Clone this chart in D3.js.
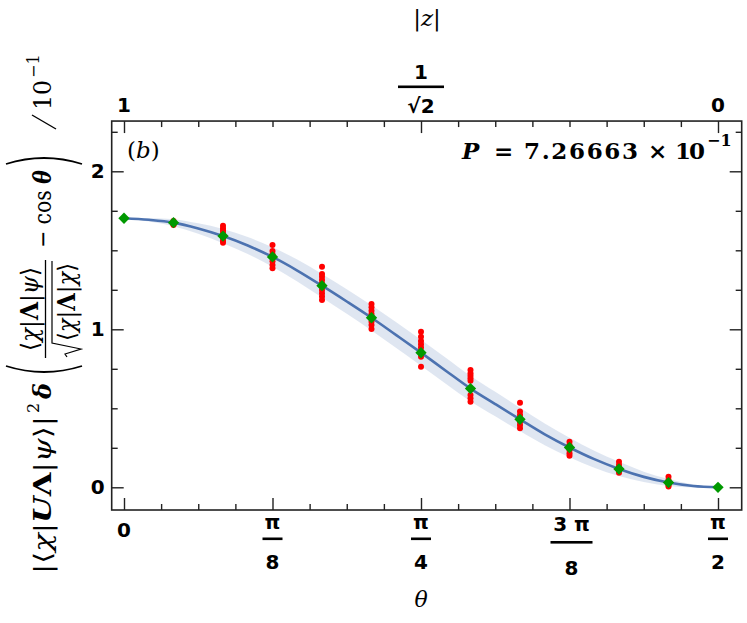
<!DOCTYPE html>
<html lang="en">
<head>
<meta charset="UTF-8">
<title>Overlap vs theta</title>
<style>
    body { margin: 0; background: #fff; }
    #chart { display: block; }
    .tick line { stroke: #222; stroke-width: 1.4; }
    .domain { display: none; }
</style>
</head>
<body>
<svg id="chart"></svg>
<script src="https://cdnjs.cloudflare.com/ajax/libs/d3/7.9.0/d3.min.js"></script>
<script>
// theta positions of the sampled points, in degrees
const thetaDeg = [0, 7.5, 15, 22.5, 30, 37.5, 45, 52.5, 60, 67.5, 75, 82.5, 90];
// green diamonds (mean values)
const meanVals = [1.703, 1.675, 1.590, 1.458, 1.276, 1.073, 0.852, 0.625, 0.430, 0.252, 0.116, 0.030, 0.000];
// red dots: individual samples at each theta
const sampleVals = [
    [],
    [1.685, 1.675, 1.665, 1.660],
    [1.655, 1.640, 1.625, 1.610, 1.590, 1.575, 1.560, 1.548],
    [1.534, 1.495, 1.475, 1.455, 1.430, 1.407, 1.386],
    [1.396, 1.350, 1.333, 1.312, 1.290, 1.249, 1.228, 1.207, 1.186],
    [1.160, 1.139, 1.118, 1.097, 1.080, 1.048, 1.027, 1.002],
    [0.985, 0.953, 0.926, 0.905, 0.885, 0.860, 0.827, 0.763],
    [0.742, 0.722, 0.706, 0.690, 0.675, 0.584, 0.563, 0.542],
    [0.535, 0.479, 0.458, 0.437, 0.415, 0.394, 0.373],
    [0.289, 0.268, 0.253, 0.236, 0.215, 0.200],
    [0.162, 0.141, 0.125, 0.105, 0.092],
    [0.067, 0.046, 0.032, 0.015, 0.005],
    []
];
// smooth curve and shaded band
const curveDeg = [0, 3.75, 7.5, 11.25, 15, 18.75, 22.5, 26.25, 30, 33.75, 37.5, 41.25, 45,
    48.75, 52.5, 56.25, 60, 63.75, 67.5, 71.25, 75, 78.75, 82.5, 86.25, 90];
const curveVals = [1.703, 1.693, 1.675, 1.638, 1.590, 1.530, 1.458, 1.372, 1.276, 1.176, 1.073, 0.963, 0.852,
    0.738, 0.625, 0.527, 0.430, 0.335, 0.252, 0.178, 0.116, 0.066, 0.030, 0.008, 0.000];
const bandHalf = [0, 0.010, 0.022, 0.033, 0.045, 0.054, 0.062, 0.069, 0.074, 0.078, 0.080, 0.082, 0.082,
    0.082, 0.080, 0.078, 0.074, 0.069, 0.062, 0.054, 0.045, 0.033, 0.022, 0.010, 0];

// ticks
const xMajor = [0, 22.5, 45, 67.5, 90];
const xMinor = [5.625, 11.25, 16.875, 28.125, 33.75, 39.375, 50.625, 56.25, 61.875, 73.125, 78.75, 84.375];
const xLabels = [["0"], ["π", "8"], ["π", "4"], ["3 π", "8"], ["π", "2"]];
const topMajor = [0, 45, 90];
const topMinor = [5.625, 11.25, 16.875, 22.5, 28.125, 33.75, 39.375, 50.625, 56.25, 61.875, 67.5, 73.125, 78.75, 84.375];
const topLabels = ["1", "1/√2", "0"];
const yMajor = [0, 1, 2];
const yMinor = [0.25, 0.5, 0.75, 1.25, 1.5, 1.75, 2.25];

const W = 747, H = 623;
const svg = d3.select("#chart").attr("width", W).attr("height", H);

const x = d3.scaleLinear().domain([0, 90]).range([124, 718]);
const y = d3.scaleLinear().domain([0, 2]).range([487.3, 171.3]);
const x0 = x(-1.864), x1 = x(93.59), yTop = y(2.318), yBot = y(-0.1437);

const sans = "'DejaVu Sans', sans-serif";
const serif = "'DejaVu Serif', serif";

// band
const band = curveDeg.map((d, i) => ({ t: d, lo: curveVals[i] - bandHalf[i], hi: curveVals[i] + bandHalf[i] }));
svg.append("path")
    .datum(band)
    .attr("fill", "#4c72b0")
    .attr("fill-opacity", 0.18)
    .attr("d", d3.area().curve(d3.curveCatmullRom).x(d => x(d.t)).y0(d => y(d.lo)).y1(d => y(d.hi)));

svg.append("path")
    .datum(curveDeg.map((d, i) => [d, curveVals[i]]))
    .attr("fill", "none")
    .attr("stroke", "#4c72b0")
    .attr("stroke-width", 2.6)
    .attr("d", d3.line().curve(d3.curveCatmullRom).x(d => x(d[0])).y(d => y(d[1])));

// red samples
const dots = [];
sampleVals.forEach((arr, i) => arr.forEach(v => dots.push([thetaDeg[i], v])));
svg.append("g").selectAll("circle")
    .data(dots)
    .join("circle")
    .attr("cx", d => x(d[0]))
    .attr("cy", d => y(d[1]))
    .attr("r", 3)
    .attr("fill", "#ff0000");

// green diamonds
svg.append("g").selectAll("path")
    .data(thetaDeg.map((d, i) => [d, meanVals[i]]))
    .join("path")
    .attr("transform", d => `translate(${x(d[0])},${y(d[1])}) rotate(45)`)
    .attr("d", d3.symbol(d3.symbolSquare, 64))
    .attr("fill", "#009900");

// frame + inward ticks
svg.append("rect")
    .attr("x", x0).attr("y", yTop)
    .attr("width", x1 - x0).attr("height", yBot - yTop)
    .attr("fill", "none").attr("stroke", "#222").attr("stroke-width", 1.6);

function ticks(axis, vals, size, tr) {
    svg.append("g").attr("transform", tr)
        .call(axis.tickValues(vals).tickSize(-size).tickSizeOuter(0).tickFormat(""));
}
ticks(d3.axisBottom(x), xMajor, 12, `translate(0,${yBot})`);
ticks(d3.axisBottom(x), xMinor, 6, `translate(0,${yBot})`);
ticks(d3.axisTop(x), topMajor, 12, `translate(0,${yTop})`);
ticks(d3.axisTop(x), topMinor, 6, `translate(0,${yTop})`);
ticks(d3.axisRight(y), yMajor, 12, `translate(${x1},0)`);
ticks(d3.axisRight(y), yMinor, 6, `translate(${x1},0)`);
ticks(d3.axisLeft(y), yMinor, 6, `translate(${x0},0)`);

// left axis with labels
const yAx = svg.append("g").attr("transform", `translate(${x0},0)`)
    .call(d3.axisLeft(y).tickValues(yMajor).tickSize(-12).tickPadding(7).tickFormat(d3.format("d")));
yAx.selectAll("text")
    .style("font-family", sans).style("font-size", "20px").style("font-weight", "bold").attr("fill", "#000");

// bottom tick labels (fractions)
function frac(cx, num, den, barW, nY, bY, dY) {
    const g = svg.append("g").style("font-family", sans).style("font-size", "20px").style("font-weight", "bold");
    g.append("text").attr("x", cx).attr("y", nY).attr("text-anchor", "middle").text(num);
    g.append("rect").attr("x", cx - barW / 2).attr("y", bY).attr("width", barW).attr("height", 2.6).attr("fill", "#000");
    g.append("text").attr("x", cx).attr("y", dY).attr("text-anchor", "middle").text(den);
}
function plain(cx, cy, s) {
    svg.append("text").attr("x", cx).attr("y", cy).attr("text-anchor", "middle")
        .style("font-family", sans).style("font-size", "20px").style("font-weight", "bold").text(s);
}
xLabels.forEach((l, i) => {
    const cx = x(xMajor[i]);
    if (l.length === 1) plain(cx, 537, l[0]);
    else if (l[0].length > 1) frac(cx + 2, l[0], l[1], 42, 531, 541, 575);
    else frac(cx, l[0], l[1], 20, 529, 537.5, 569);
});
svg.append("text").attr("x", x(45)).attr("y", 607).attr("text-anchor", "middle")
    .style("font-family", serif).style("font-size", "22px").style("font-style", "italic").text("θ");

// top tick labels (|z| = cos θ)
topLabels.forEach((s, i) => {
    const cx = x(topMajor[i]);
    if (s.includes("/")) {
        const p = s.split("/");
        frac(cx, p[0], p[1], 46, 79, 85.5, 113);
    } else plain(cx, 112, s);
});
const zl = svg.append("text").attr("x", x(45) + 6).attr("y", 26).attr("text-anchor", "middle")
    .style("font-family", serif).style("font-size", "23px");
zl.append("tspan").text("|");
zl.append("tspan").style("font-style", "italic").text("z");
zl.append("tspan").text("|");

// panel tag and P value
const tag = svg.append("text").attr("x", 127).attr("y", 158)
    .style("font-family", serif).style("font-size", "23px");
tag.append("tspan").text("(");
tag.append("tspan").style("font-style", "italic").text("b");
tag.append("tspan").text(")");

const pv = svg.append("text").attr("y", 159)
    .style("font-family", serif).style("font-size", "23px").style("font-weight", "bold");
pv.append("tspan").attr("x", 462).style("font-style", "italic").text("P");
pv.append("tspan").attr("x", 494).text("=");
pv.append("tspan").attr("x", 524).attr("textLength", 114).text("7.26663");
pv.append("tspan").attr("x", 648).text("×");
pv.append("tspan").attr("x", 675).attr("textLength", 30).text("10");
svg.append("text").attr("x", 707).attr("y", 146)
    .style("font-family", serif).style("font-size", "16px").style("font-weight", "bold").text("−1");

// y label, laid out along a rotated baseline (u = distance up from the start)
const lab = svg.append("g").attr("transform", "translate(51,574) rotate(-90)")
    .style("font-family", serif).style("font-size", "24px");
function piece(u, len, parts, dy, size, anchor) {
    const t = lab.append("text").attr("x", u).attr("y", dy || 0);
    if (len) t.attr("textLength", len).attr("lengthAdjust", "spacingAndGlyphs");
    if (size) t.style("font-size", size + "px");
    if (anchor) t.attr("text-anchor", anchor);
    parts.forEach(p => {
        const s = t.append("tspan").text(p[0]);
        if (p[1] === "i") s.style("font-style", "italic");
        if (p[1] === "b") s.style("font-weight", "bold");
        if (p[1] === "bi") s.style("font-weight", "bold").style("font-style", "italic");
    });
    return t;
}
function paren(u0, open) {
    const a = open ? u0 + 10 : u0, b = open ? u0 - 2 : u0 + 12;
    lab.append("path").attr("d", `M${a},-45 Q${b},-7 ${a},31`)
        .attr("fill", "none").attr("stroke", "#000").attr("stroke-width", 1.8);
}
piece(0, 158, [["|⟨"], ["χ", "i"], ["|"], ["U", "bi"], ["Λ", "b"], ["|"], ["ψ", "i"], ["⟩|"]]);
piece(161, 0, [["2"]], -12, 16);
piece(175, 0, [["δ", "bi"]]);
paren(198, true);
// fraction
const fu = 216, fw = 98;
piece(fu + fw / 2, 84, [["⟨"], ["χ", "i"], ["|"], ["Λ", "b"], ["|"], ["ψ", "i"], ["⟩"]], -13, 0, "middle");
lab.append("line").attr("x1", fu).attr("x2", fu + fw).attr("y1", -5.5).attr("y2", -5.5)
    .attr("stroke", "#000").attr("stroke-width", 1.3);
lab.append("path")
    .attr("d", `M${fu + 1},16 L${fu + 4},14 L${fu + 9},30 L${fu + 15},1 L${fu + fw - 1},1`)
    .attr("fill", "none").attr("stroke", "#000").attr("stroke-width", 1.2);
piece(fu + 17, 78, [["⟨"], ["χ", "i"], ["|"], ["Λ", "b"], ["|"], ["χ", "i"], ["⟩"]], 24);
piece(326, 78, [["− cos "], ["θ", "bi"]]);
paren(410, false);
// slash of "/10^-1"
lab.append("line").attr("x1", 445).attr("y1", 5).attr("x2", 459).attr("y2", -19)
    .attr("stroke", "#000").attr("stroke-width", 1.4);
piece(464, 30, [["10"]]);
piece(496, 0, [["−1"]], -12, 16);
</script>
</body>
</html>
